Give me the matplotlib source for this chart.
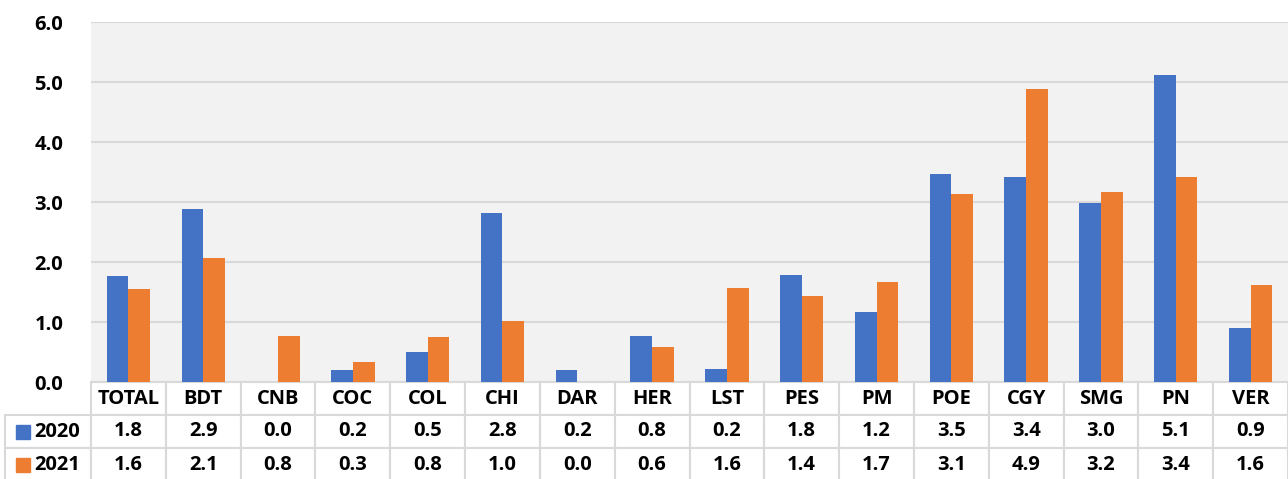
import matplotlib.pyplot as plt
from matplotlib.patches import Rectangle

# data
categories = ['TOTAL', 'BDT', 'CNB', 'COC', 'COL', 'CHI', 'DAR', 'HER',
              'LST', 'PES', 'PM', 'POE', 'CGY', 'SMG', 'PN', 'VER']
vals_2020 = [1.76, 2.88, 0.0, 0.20, 0.50, 2.82, 0.20, 0.77,
             0.22, 1.78, 1.17, 3.47, 3.42, 2.98, 5.12, 0.90]
vals_2021 = [1.55, 2.07, 0.77, 0.33, 0.75, 1.01, 0.0, 0.59,
             1.57, 1.43, 1.66, 3.13, 4.88, 3.17, 3.42, 1.62]
series_names = ['2020', '2021']
yticks = [0, 1, 2, 3, 4, 5, 6]

blue = '#4472C4'
orange = '#ED7D31'
grid_col = '#D9D9D9'
font = 'Open Sans'

fig = plt.figure(figsize=(12.88, 4.79), dpi=100)
ax = fig.add_axes([91/1288, 97/479, 1197/1288, 360/479])
ax.set_facecolor('#F2F2F2')

x = range(len(categories))
w = 0.29
ax.bar([i - w/2 for i in x], vals_2020, width=w, color=blue, zorder=3)
ax.bar([i + w/2 for i in x], vals_2021, width=w, color=orange, zorder=3)

ax.set_xlim(-0.5, len(categories) - 0.5)
ax.set_ylim(0, 6)
ax.set_yticks(yticks)
ax.set_yticklabels(['%.1f' % t for t in yticks], fontsize=14.5, fontweight='bold',
                   family=font)
ax.tick_params(axis='y', length=0, pad=20)
ax.set_xticks([])
ax.grid(axis='y', color=grid_col, linewidth=1.5, zorder=0)
for s in ax.spines.values():
    s.set_visible(False)

# data table under the plot
cell_text = [[''] + categories,
             [''] + ['%.1f' % v for v in vals_2020],
             [''] + ['%.1f' % v for v in vals_2021]]
lab_w = 86 / 1197
col_w = 1.0 / 16
tab = ax.table(cellText=cell_text, colWidths=[lab_w] + [col_w] * 16,
               cellLoc='center', bbox=[-lab_w, -99/360, 1 + lab_w, 99/360])
tab.auto_set_font_size(False)
tab.set_fontsize(14.5)
for (r, c), cell in tab.get_celld().items():
    cell.set_edgecolor(grid_col)
    cell.set_linewidth(1.5)
    cell.get_text().set_fontweight('bold')
    cell.get_text().set_family(font)
    if r == 0 and c == 0:
        cell.visible_edges = ''

# legend keys inside the row labels
for name, col, yc in zip(series_names, [blue, orange], [-0.138, -0.23]):
    ax.add_patch(Rectangle((-75/1197, yc - 7/360), 14/1197, 14/360,
                           transform=ax.transAxes, color=col, clip_on=False))
    ax.text(-57/1197, yc, name, transform=ax.transAxes, ha='left', va='center',
            fontsize=14.5, fontweight='bold', family=font)

plt.savefig('out.png', dpi=100)
